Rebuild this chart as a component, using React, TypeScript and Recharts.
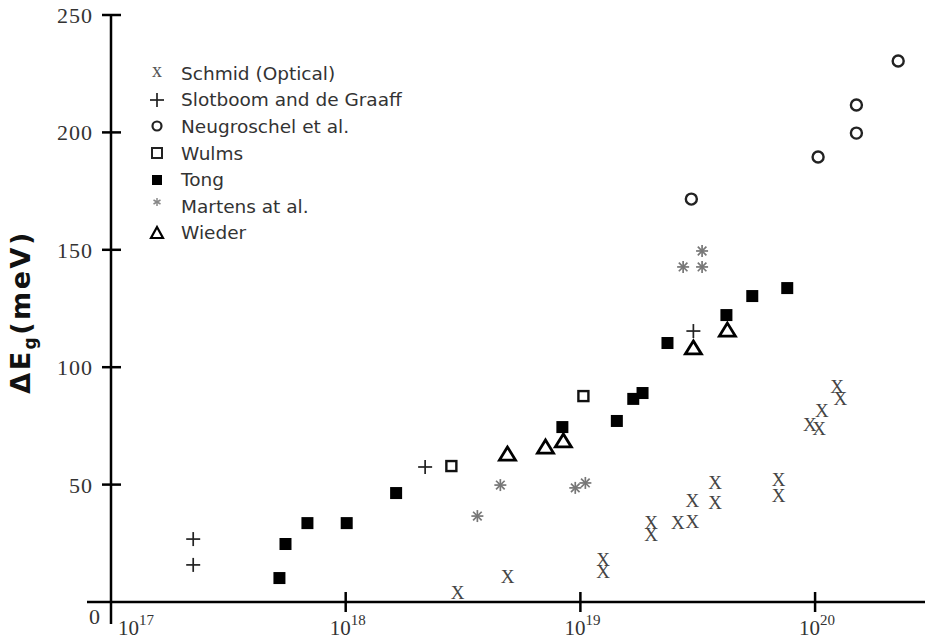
import React from 'react';
import { ScatterChart, Scatter, XAxis, YAxis, Legend } from 'recharts';

// ---------- data ----------
const xTicks = [1e17, 1e18, 1e19, 1e20];
const yTicks = [0, 50, 100, 150, 200, 250];
const xDomain = [1e17, 2.94e20];
const yDomain = [0, 250];

const seriesNames = [
  'Schmid (Optical)',
  'Slotboom and de Graaff',
  'Neugroschel et al.',
  'Wulms',
  'Tong',
  'Martens at al.',
  'Wieder',
];

// [doping (cm^-3), ΔEg (meV)]
const schmid: number[][] = [
  [3.0e18, 3.8], [4.9e18, 10.6], [1.25e19, 17.9], [1.25e19, 12.8],
  [2.0e19, 33.6], [2.0e19, 28.5], [2.6e19, 33.6], [3.0e19, 34.1],
  [3.0e19, 43.0], [3.75e19, 42.2], [3.75e19, 50.7], [7.0e19, 52.0],
  [7.0e19, 45.1], [9.5e19, 75.4], [1.04e20, 73.7], [1.07e20, 81.3],
  [1.24e20, 91.6], [1.28e20, 86.5],
];
const slotboom: number[][] = [
  [2.24e17, 26.8], [2.24e17, 15.8], [2.18e18, 57.5], [3.03e19, 115.4],
];
const neugroschel: number[][] = [
  [2.97e19, 171.6], [1.03e20, 189.5], [1.5e20, 199.7], [1.5e20, 211.7], [2.26e20, 230.4],
];
const wulms: number[][] = [
  [2.82e18, 57.9], [1.03e19, 87.7],
];
const tong: number[][] = [
  [5.22e17, 10.2], [5.54e17, 24.7], [6.87e17, 33.6], [1.01e18, 33.6],
  [1.64e18, 46.4], [8.38e18, 74.5], [1.43e19, 77.1], [1.68e19, 86.5],
  [1.84e19, 89.0], [2.35e19, 110.3], [4.19e19, 122.2], [5.4e19, 130.3],
  [7.61e19, 133.7],
];
const martens: number[][] = [
  [3.64e18, 36.6], [4.56e18, 49.8], [9.51e18, 48.6], [1.05e19, 50.7],
  [2.74e19, 142.7], [3.3e19, 142.7], [3.3e19, 149.5],
];
const wieder: number[][] = [
  [4.89e18, 63.0], [7.1e18, 66.0], [8.46e18, 68.6], [3.03e19, 108.2], [4.23e19, 115.8],
];

const toPts = (arr: number[][]) => arr.map(([x, y]) => ({ x, y }));

// ---------- styles ----------
const SERIF = "'Liberation Serif', 'DejaVu Serif', serif";
const SANS = "'DejaVu Sans', 'Liberation Sans', sans-serif";
const AXIS_W = 2.5;

// ---------- marker shapes ----------
const XMark = ({ cx, cy }: any) => (
  <text x={cx} y={cy + 6} textAnchor="middle" fontFamily={SERIF} fontSize={19} fill="#444">X</text>
);
const PlusMark = ({ cx, cy }: any) => (
  <g stroke="#222" strokeWidth={1.7}>
    <line x1={cx - 7} x2={cx + 7} y1={cy} y2={cy} />
    <line x1={cx} x2={cx} y1={cy - 7} y2={cy + 7} />
  </g>
);
const CircleMark = ({ cx, cy }: any) => (
  <circle cx={cx} cy={cy} r={5.5} fill="none" stroke="#222" strokeWidth={2.4} />
);
const OpenSquare = ({ cx, cy }: any) => (
  <rect x={cx - 5} y={cy - 5} width={10} height={10} fill="none" stroke="#111" strokeWidth={2.4} />
);
const FilledSquare = ({ cx, cy }: any) => (
  <rect x={cx - 6} y={cy - 6} width={12} height={12} fill="#000" />
);
const StarMark = ({ cx, cy }: any) => (
  <g stroke="#777" strokeWidth={1.7}>
    <line x1={cx} x2={cx} y1={cy - 6} y2={cy + 6} />
    <line x1={cx - 6} x2={cx + 6} y1={cy} y2={cy} />
    <line x1={cx - 4.3} x2={cx + 4.3} y1={cy - 4.3} y2={cy + 4.3} />
    <line x1={cx - 4.3} x2={cx + 4.3} y1={cy + 4.3} y2={cy - 4.3} />
  </g>
);
const TriMark = ({ cx, cy }: any) => (
  <polygon
    points={`${cx},${cy - 7} ${cx - 8},${cy + 6} ${cx + 8},${cy + 6}`}
    fill="none" stroke="#000" strokeWidth={2.8} strokeLinejoin="miter"
  />
);

// ---------- axis ticks ----------
const XTick = (props: any) => {
  const { x, y, payload } = props;
  const exp = Math.round(Math.log10(payload.value));
  const first = exp === 17;
  return (
    <g>
      <line x1={x} x2={x} y1={first ? y : y - 10} y2={first ? y + 22 : y + 10} stroke="#000" strokeWidth={AXIS_W} />
      <text
        x={first ? x + 7 : x + 2}
        y={y + 33}
        textAnchor={first ? 'start' : 'middle'}
        fontFamily={SERIF}
        fontSize={21}
        fill="#333"
      >
        10<tspan dy={-10} fontSize={15}>{exp}</tspan>
      </text>
    </g>
  );
};

const YTick = (props: any) => {
  const { x, y, payload } = props;
  const v = payload.value;
  if (v === 0) {
    return (
      <g>
        <line x1={x - 24} x2={x} y1={y} y2={y} stroke="#000" strokeWidth={AXIS_W} />
        <text x={x - 11} y={y + 22} textAnchor="end" fontFamily={SERIF} fontSize={22} fill="#333">0</text>
      </g>
    );
  }
  return (
    <g>
      <line x1={x - 9} x2={x + 10} y1={y} y2={y} stroke="#000" strokeWidth={AXIS_W} />
      <text x={x - 18} y={y + 8} textAnchor="end" fontFamily={SERIF} fontSize={22} fill="#333" letterSpacing={1}>{v}</text>
    </g>
  );
};

const YTitle = () => (
  <text
    x={30}
    y={312}
    transform="rotate(-90, 30, 312)"
    textAnchor="middle"
    fontFamily={SANS}
    fontWeight="bold"
    fontSize={27}
    fill="#111"
    letterSpacing={2.5}
  >
    ΔE<tspan fontSize={17} dy={6}>g</tspan><tspan dy={-6}>(meV)</tspan>
  </text>
);

// ---------- legend ----------
const legendSymbol = (i: number) => {
  const c = 9;
  switch (i) {
    case 0:
      return <text x={c} y={c + 4} textAnchor="middle" fontFamily={SERIF} fontSize={20} fill="#555">x</text>;
    case 1:
      return <PlusMark cx={c} cy={c} />;
    case 2:
      return <circle cx={c} cy={c} r={4.5} fill="none" stroke="#222" strokeWidth={2.2} />;
    case 3:
      return <rect x={c - 5} y={c - 5} width={10} height={10} fill="none" stroke="#222" strokeWidth={2} />;
    case 4:
      return <rect x={c - 5} y={c - 5} width={10} height={10} fill="#000" />;
    case 5:
      return (
        <g stroke="#888" strokeWidth={1.5}>
          <line x1={c} x2={c} y1={c - 8} y2={c + 0} />
          <line x1={c - 3.5} x2={c + 3.5} y1={c - 6} y2={c - 2} />
          <line x1={c - 3.5} x2={c + 3.5} y1={c - 2} y2={c - 6} />
        </g>
      );
    default:
      return (
        <polygon points={`${c},${c - 6} ${c - 6},${c + 5} ${c + 6},${c + 5}`} fill="none" stroke="#000" strokeWidth={2.2} />
      );
  }
};

const renderLegend = () => (
  <div style={{ fontFamily: SANS, fontSize: 18.5, color: '#333' }}>
    {seriesNames.map((name, i) => (
      <div key={name} style={{ display: 'flex', alignItems: 'center', height: 26.6 }}>
        <svg width={18} height={18} style={{ marginRight: 15, overflow: 'visible' }}>{legendSymbol(i)}</svg>
        <span style={{ whiteSpace: 'nowrap' }}>{name}</span>
      </div>
    ))}
  </div>
);

export default function App() {
  return (
    <div style={{ position: 'absolute', left: 0, top: 0, width: 925, height: 641, background: '#fff' }}>
      <ScatterChart width={925} height={641} margin={{ top: 15, right: 0, bottom: 0, left: 0 }}>
        <XAxis
          type="number"
          dataKey="x"
          scale="log"
          domain={xDomain}
          allowDataOverflow
          ticks={xTicks}
          interval={0}
          height={39}
          tickSize={0}
          tickMargin={0}
          tickLine={false}
          axisLine={{ stroke: '#000', strokeWidth: AXIS_W }}
          tick={<XTick />}
        />
        <YAxis
          type="number"
          dataKey="y"
          domain={yDomain}
          ticks={yTicks}
          interval={0}
          width={111}
          tickSize={0}
          tickMargin={0}
          tickLine={false}
          axisLine={{ stroke: '#000', strokeWidth: AXIS_W }}
          tick={<YTick />}
          label={<YTitle />}
        />
        <Legend
          content={renderLegend}
          layout="vertical"
          align="center"
          verticalAlign="middle"
          wrapperStyle={{ left: 148, top: 60, width: 320, height: 190 }}
        />
        <Scatter name={seriesNames[0]} data={toPts(schmid)} shape={XMark} isAnimationActive={false} />
        <Scatter name={seriesNames[1]} data={toPts(slotboom)} shape={PlusMark} isAnimationActive={false} />
        <Scatter name={seriesNames[2]} data={toPts(neugroschel)} shape={CircleMark} isAnimationActive={false} />
        <Scatter name={seriesNames[3]} data={toPts(wulms)} shape={OpenSquare} isAnimationActive={false} />
        <Scatter name={seriesNames[4]} data={toPts(tong)} shape={FilledSquare} isAnimationActive={false} />
        <Scatter name={seriesNames[5]} data={toPts(martens)} shape={StarMark} isAnimationActive={false} />
        <Scatter name={seriesNames[6]} data={toPts(wieder)} shape={TriMark} isAnimationActive={false} />
      </ScatterChart>
    </div>
  );
}
